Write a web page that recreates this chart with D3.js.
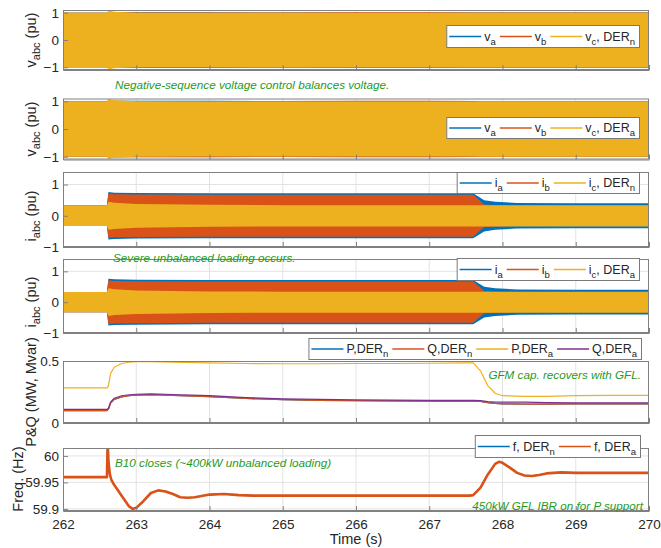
<!DOCTYPE html>
<html><head><meta charset="utf-8">
<script src="https://cdn.jsdelivr.net/npm/d3@7"></script>
<style>
body{margin:0;background:#fff}
svg{display:block;font-family:"Liberation Sans",Arial,Helvetica,sans-serif}
</style>
</head><body><svg id="chart" width="661" height="548"></svg>
<script>
// ---- data -------------------------------------------------------------
const timeTicks = [262, 263, 264, 265, 266, 267, 268, 269, 270];

// voltage envelopes (peak pu) per phase
const tV = [262, 262.6, 262.62, 262.7, 263.0, 264.0, 265.0, 266.0, 267.0, 267.6, 267.7, 268.0, 269.0, 270.0];
const vaN = [1.0, 1.0, 1.03, 1.02, 1.015, 1.015, 1.01, 1.01, 1.01, 1.01, 1.01, 1.01, 1.01, 1.01];
const vbN = [1.0, 1.0, 1.03, 1.02, 1.01, 1.01, 1.01, 1.015, 1.015, 1.01, 1.01, 1.01, 1.005, 1.005];
const vcN = [1.0, 1.0, 1.08, 1.04, 1.0, 0.995, 0.995, 0.995, 0.995, 0.995, 1.0, 1.0, 1.0, 1.0];
const vaA = [1.0, 1.0, 1.03, 1.02, 1.015, 1.015, 1.01, 1.01, 1.01, 1.01, 1.01, 1.01, 1.01, 1.01];
const vbA = [1.0, 1.0, 1.03, 1.02, 1.01, 1.01, 1.01, 1.015, 1.015, 1.01, 1.01, 1.01, 1.005, 1.005];
const vcA = [1.0, 1.0, 1.08, 1.04, 1.0, 0.995, 0.995, 0.995, 0.995, 0.995, 1.0, 1.0, 1.0, 1.0];

// current envelopes (peak pu) per phase
const tI = [262, 262.6, 262.62, 262.7, 263.0, 264.0, 265.0, 266.0, 267.0, 267.6, 267.75, 267.9, 268.2, 269.0, 270.0];
const iaN = [0.33, 0.33, 0.76, 0.74, 0.73, 0.72, 0.72, 0.72, 0.72, 0.72, 0.5, 0.45, 0.41, 0.4, 0.4];
const ibN = [0.33, 0.33, 0.71, 0.69, 0.68, 0.67, 0.67, 0.67, 0.67, 0.67, 0.36, 0.34, 0.33, 0.33, 0.33];
const icN = [0.33, 0.33, 0.45, 0.42, 0.38, 0.35, 0.34, 0.34, 0.34, 0.34, 0.34, 0.34, 0.34, 0.34, 0.34];
const iaA = [0.33, 0.33, 0.76, 0.74, 0.73, 0.72, 0.72, 0.72, 0.72, 0.72, 0.5, 0.45, 0.41, 0.4, 0.4];
const ibA = [0.33, 0.33, 0.71, 0.69, 0.68, 0.67, 0.67, 0.67, 0.67, 0.67, 0.36, 0.34, 0.33, 0.33, 0.33];
const icA = [0.33, 0.33, 0.45, 0.42, 0.38, 0.35, 0.34, 0.34, 0.34, 0.34, 0.34, 0.34, 0.34, 0.34, 0.34];

// active / reactive power (MW, Mvar)
const tPQ = [262, 262.6, 262.62, 262.65, 262.7, 262.8, 262.9, 263.0, 263.2, 263.5, 264.0, 264.5, 265.0, 265.5, 266.0, 266.5, 267.0, 267.5, 267.6, 267.7, 267.8, 267.9, 268.0, 268.3, 268.6, 269.0, 269.5, 270.0];
const Pa = [0.283, 0.283, 0.30, 0.40, 0.45, 0.48, 0.49, 0.495, 0.495, 0.49, 0.485, 0.48, 0.478, 0.478, 0.48, 0.48, 0.482, 0.485, 0.485, 0.42, 0.30, 0.24, 0.22, 0.215, 0.215, 0.22, 0.222, 0.222];
const Qa = [0.11, 0.11, 0.12, 0.17, 0.20, 0.22, 0.228, 0.232, 0.235, 0.23, 0.22, 0.205, 0.195, 0.19, 0.187, 0.185, 0.183, 0.182, 0.182, 0.18, 0.172, 0.168, 0.168, 0.168, 0.165, 0.163, 0.162, 0.162];
const Qn = [0.10, 0.10, 0.11, 0.16, 0.19, 0.21, 0.22, 0.225, 0.228, 0.222, 0.212, 0.198, 0.188, 0.183, 0.18, 0.178, 0.176, 0.175, 0.175, 0.174, 0.165, 0.158, 0.155, 0.152, 0.153, 0.155, 0.155, 0.155];
const Pn = [0.10, 0.10, 0.11, 0.16, 0.19, 0.21, 0.22, 0.225, 0.228, 0.222, 0.212, 0.198, 0.188, 0.183, 0.18, 0.178, 0.176, 0.175, 0.175, 0.174, 0.165, 0.158, 0.155, 0.152, 0.153, 0.155, 0.155, 0.155];

// frequency (Hz)
const tF = [262, 262.6, 262.61, 262.62, 262.64, 262.66, 262.7, 262.75, 262.8, 262.9, 262.95, 263.0, 263.1, 263.2, 263.3, 263.4, 263.5, 263.6, 263.7, 263.8, 264.0, 264.2, 264.4, 264.6, 265.0, 266.0, 267.0, 267.55, 267.6, 267.7, 267.8, 267.9, 267.95, 268.0, 268.1, 268.2, 268.3, 268.4, 268.5, 268.6, 268.8, 269.0, 269.5, 270.0];
const fA = [59.96, 59.96, 60.03, 59.99, 59.965, 59.955, 59.945, 59.935, 59.925, 59.905, 59.9, 59.902, 59.915, 59.93, 59.935, 59.933, 59.928, 59.922, 59.921, 59.922, 59.927, 59.928, 59.926, 59.925, 59.925, 59.925, 59.925, 59.925, 59.926, 59.94, 59.965, 59.985, 59.989, 59.987, 59.978, 59.968, 59.963, 59.962, 59.964, 59.967, 59.969, 59.968, 59.968, 59.968];
const fN = fA.slice();

// ---- styles -----------------------------------------------------------
const C = {blue: "#0072BD", red: "#D95319", yellow: "#EDB120", purple: "#7E2F8E", green: "#1f9a1f", axis: "#262626", frame: "#808080", grid: "#e3e3e3"};
const X0 = 63, X1 = 649;

const svg = d3.select("#chart");
const x = d3.scaleLinear().domain([262, 270]).range([X0, X1]);

const panels = [
  {top: 10, bottom: 70, domain: [-1.1, 1.1], ticks: [-1, 0, 1], fmt: d3.format("d")},
  {top: 98.5, bottom: 159.5, domain: [-1.1, 1.1], ticks: [-1, 0, 1], fmt: d3.format("d")},
  {top: 172, bottom: 247, domain: [-1, 1.4], ticks: [-1, 0, 1], fmt: d3.format("d")},
  {top: 259, bottom: 333, domain: [-1, 1.4], ticks: [-1, 0, 1], fmt: d3.format("d")},
  {top: 361, bottom: 423, domain: [0, 0.5], ticks: [0, 0.5], fmt: d => d === 0 ? "0" : String(d)},
  {top: 448, bottom: 511, domain: [59.896, 60.015], ticks: [59.9, 59.95, 60], fmt: d => String(+d.toFixed(2))}
];
panels.forEach((p, i) => {
  p.y = d3.scaleLinear().domain(p.domain).range([p.bottom, p.top]);
  p.clip = "clip" + i;
  svg.append("clipPath").attr("id", p.clip).append("rect")
    .attr("x", X0).attr("y", p.top).attr("width", X1 - X0).attr("height", p.bottom - p.top);
  p.g = svg.append("g");
  // grid
  p.g.append("g").selectAll("line").data(timeTicks.slice(1, -1)).join("line")
    .attr("x1", d => x(d)).attr("x2", d => x(d)).attr("y1", p.top).attr("y2", p.bottom)
    .attr("stroke", C.grid).attr("stroke-width", 1);
  p.g.append("g").selectAll("line").data(p.ticks.filter(t => p.y(t) > p.top + 1 && p.y(t) < p.bottom - 1)).join("line")
    .attr("x1", X0).attr("x2", X1).attr("y1", d => p.y(d)).attr("y2", d => p.y(d))
    .attr("stroke", C.grid).attr("stroke-width", 1);
  p.plot = p.g.append("g").attr("clip-path", `url(#${p.clip})`);
});

function band(p, t, amp, color) {
  const pts = t.map((d, k) => [d, amp[k]]);
  p.plot.append("path").datum(pts)
    .attr("fill", color)
    .attr("d", d3.area().x(d => x(d[0])).y0(d => p.y(-d[1])).y1(d => p.y(d[1])));
}
function trace(p, t, v, color, w) {
  const pts = t.map((d, k) => [d, v[k]]);
  p.plot.append("path").datum(pts)
    .attr("fill", "none").attr("stroke", color).attr("stroke-width", w).attr("stroke-linejoin", "round")
    .attr("d", d3.line().x(d => x(d[0])).y(d => p.y(d[1])));
}

band(panels[0], tV, vaN, C.blue); band(panels[0], tV, vbN, C.red); band(panels[0], tV, vcN, C.yellow);
band(panels[1], tV, vaA, C.blue); band(panels[1], tV, vbA, C.red); band(panels[1], tV, vcA, C.yellow);
band(panels[2], tI, iaN, C.blue); band(panels[2], tI, ibN, C.red); band(panels[2], tI, icN, C.yellow);
band(panels[3], tI, iaA, C.blue); band(panels[3], tI, ibA, C.red); band(panels[3], tI, icA, C.yellow);
trace(panels[4], tPQ, Pn, C.blue, 1.2); trace(panels[4], tPQ, Qn, C.red, 1.2);
trace(panels[4], tPQ, Pa, C.yellow, 1.2); trace(panels[4], tPQ, Qa, C.purple, 1.2);
trace(panels[5], tF, fN, C.blue, 1.2); trace(panels[5], tF, fA, C.red, 2.6);

// frames, ticks and tick labels
panels.forEach((p, i) => {
  const ax = p.g.append("g");
  ax.append("rect").attr("x", X0 + 0.5).attr("y", p.top + 0.5).attr("width", X1 - X0 - 1).attr("height", p.bottom - p.top - 1)
    .attr("fill", "none").attr("stroke", C.frame).attr("stroke-width", 1);
  const bottomAxis = d3.axisBottom(x).tickValues(timeTicks).tickSizeInner(-5).tickSizeOuter(0)
    .tickFormat(i === 5 ? d3.format("d") : () => "");
  const ga = ax.append("g").attr("transform", `translate(0,${p.bottom})`).call(bottomAxis);
  const leftAxis = d3.axisLeft(p.y).tickValues(p.ticks).tickSizeInner(-5).tickSizeOuter(0).tickFormat(p.fmt);
  const gl = ax.append("g").attr("transform", `translate(${X0},0)`).call(leftAxis);
  [ga, gl].forEach(g => {
    g.select(".domain").attr("stroke", C.frame);
    g.selectAll(".tick line").attr("stroke", C.frame);
    g.selectAll(".tick text").attr("fill", C.axis).attr("font-size", 13.5)
      .attr("font-family", '"Liberation Sans",Arial,sans-serif');
  });
  gl.selectAll(".tick text").attr("x", -4);
  ga.selectAll(".tick text").attr("y", 8);
});

// y axis labels (with subscripts)
function yLabel(xp, yc, parts) {
  const t = svg.append("text").attr("transform", `translate(${xp},${yc}) rotate(-90)`)
    .attr("text-anchor", "middle").attr("fill", C.axis).attr("font-size", 14.5);
  let sub = false;
  parts.forEach(([s, isSub]) => {
    const dy = isSub && !sub ? 4 : (!isSub && sub ? -4 : 0);
    t.append("tspan").attr("dy", dy).attr("font-size", isSub ? 11 : 14.5).text(s);
    sub = !!isSub;
  });
}
yLabel(36, 40, [["v"], ["abc", true], [" (pu)"]]);
yLabel(36, 129, [["v"], ["abc", true], [" (pu)"]]);
yLabel(36, 216, [["i"], ["abc", true], [" (pu)"]]);
yLabel(36, 302, [["i"], ["abc", true], [" (pu)"]]);
yLabel(36, 392, [["P&Q (MW, Mvar)"]]);
yLabel(23, 479, [["Freq. (Hz)"]]);

svg.append("text").attr("x", (X0 + X1) / 2).attr("y", 544).attr("text-anchor", "middle")
  .attr("fill", C.axis).attr("font-size", 14.5).text("Time (s)");

// legends
function legend(right, top, h, items) {
  const g = svg.append("g");
  const box = g.append("rect").attr("y", top + 0.5).attr("height", h).attr("fill", "#fff")
    .attr("stroke", "#7a7a7a").attr("stroke-width", 1);
  let cx = 0;
  const inner = g.append("g");
  items.forEach(([color, parts], k) => {
    cx += k === 0 ? 3 : 4;
    inner.append("line").attr("x1", cx).attr("x2", cx + 32).attr("y1", top + h / 2 + 0.5).attr("y2", top + h / 2 + 0.5)
      .attr("stroke", color).attr("stroke-width", 1.3);
    cx += 35;
    const t = inner.append("text").attr("x", cx).attr("y", top + h / 2 + 4.5).attr("fill", C.axis).attr("font-size", 12.5);
    let sub = false;
    parts.forEach(([s, isSub]) => {
      const dy = isSub && !sub ? 4 : (!isSub && sub ? -4 : 0);
      t.append("tspan").attr("dy", dy).attr("font-size", isSub ? 9.5 : 12.5).text(s);
      sub = !!isSub;
    });
    cx += t.node().getComputedTextLength();
  });
  cx += 4;
  const left = right - cx;
  inner.attr("transform", `translate(${left},0)`);
  box.attr("x", left + 0.5).attr("width", cx);
}
legend(639, 25, 22, [[C.blue, [["v"], ["a", 1]]], [C.red, [["v"], ["b", 1]]], [C.yellow, [["v"], ["c", 1], [", DER"], ["n", 1]]]]);
legend(639, 117, 21, [[C.blue, [["v"], ["a", 1]]], [C.red, [["v"], ["b", 1]]], [C.yellow, [["v"], ["c", 1], [", DER"], ["a", 1]]]]);
legend(639, 172, 21, [[C.blue, [["i"], ["a", 1]]], [C.red, [["i"], ["b", 1]]], [C.yellow, [["i"], ["c", 1], [", DER"], ["n", 1]]]]);
legend(639, 258, 22, [[C.blue, [["i"], ["a", 1]]], [C.red, [["i"], ["b", 1]]], [C.yellow, [["i"], ["c", 1], [", DER"], ["a", 1]]]]);
legend(641, 338, 21, [[C.blue, [["P,DER"], ["n", 1]]], [C.red, [["Q,DER"], ["n", 1]]], [C.yellow, [["P,DER"], ["a", 1]]], [C.purple, [["Q,DER"], ["a", 1]]]]);
legend(640, 435, 22, [[C.blue, [["f, DER"], ["n", 1]]], [C.red, [["f, DER"], ["a", 1]]]]);

// annotations
function note(xp, yp, anchor, s) {
  svg.append("text").attr("x", xp).attr("y", yp).attr("text-anchor", anchor)
    .attr("fill", C.green).attr("font-style", "italic").attr("font-size", 11.7).text(s);
}
note(115, 89, "start", "Negative-sequence voltage control balances voltage.");
note(113, 262, "start", "Severe unbalanced loading occurs.");
note(641, 379, "end", "GFM cap. recovers with GFL.");
note(115, 467, "start", "B10 closes (~400kW unbalanced loading)");
note(643, 510, "end", "450kW GFL IBR on for P support");
</script></body></html>
